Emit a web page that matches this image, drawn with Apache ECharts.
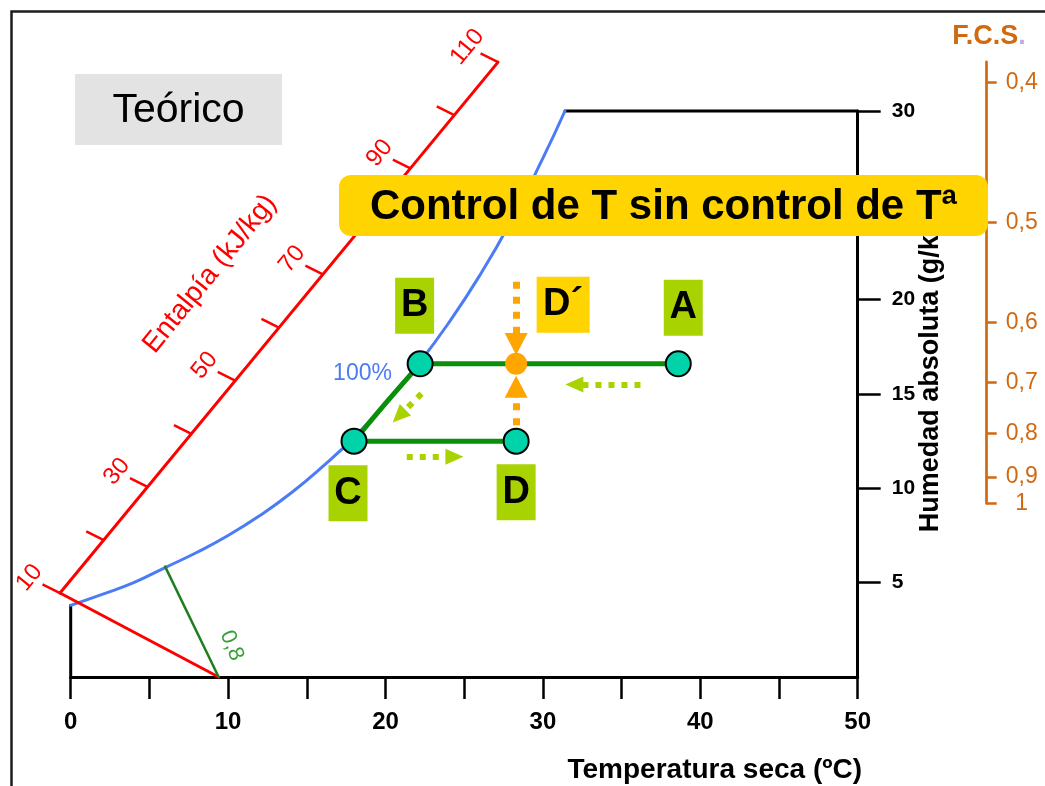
<!DOCTYPE html>
<html>
<head>
<meta charset="utf-8">
<script src="https://cdn.jsdelivr.net/npm/echarts@6/dist/echarts.min.js"></script>
<style>
  html, body { margin: 0; padding: 0; background: #fff; }
  #chart { width: 1045px; height: 786px; }
</style>
</head>
<body>
<div id="chart"></div>
<script>
// Saturation curve (100 % relative humidity): dry-bulb temperature (ºC) -> absolute humidity (g/kg)
const satT = [0, 2, 4, 6, 8, 10, 12, 14, 16, 18, 20, 22, 24, 26, 28, 30, 31.4];
const satW = [3.8, 4.38, 5.0, 5.8, 6.6, 7.5, 8.55, 9.75, 11.15, 12.7, 14.5, 16.5, 18.75, 21.3, 24.2, 27.5, 30.0];

// Air states of the process
const stateNames = ['A', 'B', 'C', 'D', 'D´'];
const stateT = [38.6, 22.2, 18.0, 28.3, 28.3];
const stateW = [16.6, 16.6, 12.5, 12.5, 16.6];

// Oblique enthalpy scale (kJ/kg): position of each graduation on the T / W plane
const enthalpyValues = [10, 20, 30, 40, 50, 60, 70, 80, 90, 100, 110];
const enthalpyT = [-0.68, 2.10, 4.88, 7.67, 10.45, 13.23, 16.02, 18.80, 21.58, 24.37, 27.15];
const enthalpyW = [4.45, 7.26, 10.08, 12.89, 15.71, 18.52, 21.34, 24.15, 26.96, 29.78, 32.59];

// Isenthalpic line h = 10 kJ/kg and the 0,8 sensible heat factor guide line
const isoEnthalpy10 = [[-0.68, 4.45], [9.4, 0]];
const shfLine08 = [[6.0, 5.85], [9.4, 0]];

// Sensible heat factor scale (F.C.S.): labels and their height on the humidity scale
const fcsLabels = ['0,4', '0,5', '0,6', '0,7', '0,8', '0,9', '1'];
const fcsAt = [31.5, 24.1, 18.8, 15.6, 12.9, 10.6, 9.2];
const fcsScaleTop = 32.6;

// Axis tick labels
const xLabels = [0, 10, 20, 30, 40, 50];
const yTicks = [5, 10, 15, 20, 25, 30];

// Flow arrows [from, to] (T, W)
const processArrows = [
  [[36.2, 15.5], [32.0, 15.5]],
  [[21.35, 11.67], [24.38, 11.67]],
  [[22.29, 15.02], [20.86, 13.83]]
];
const mixingArrows = [
  [[28.3, 20.95], [28.3, 17.65]],
  [[28.3, 13.35], [28.3, 15.39]]
];

const FONT = '"Liberation Sans", Arial, Helvetica, sans-serif';
const RED = '#ff0000', BLUE = '#4b7bf5', GREEN = '#0b8f0b', TEAL = '#00d2aa';
const LIME = '#a9d300', ORANGE = '#ffa500', FCS_COLOR = '#cf6a12', YELLOW = '#ffd400';

const GRID = { left: 70.7, right: 187.3, top: 111, bottom: 109 };
const H = 786, W_MAX = 30;
const pxPerW = (H - GRID.top - GRID.bottom) / W_MAX;
const baseY = H - GRID.bottom;
const fcsTopPx = baseY - fcsScaleTop * pxPerW;
const fcsBottomPx = baseY - fcsAt[fcsAt.length - 1] * pxPerW;

// Direction of the short isenthalpic graduation marks (px)
const TICK = [-17.5, -8.7];

const pts = (ts, ws) => ts.map((t, i) => [t, ws[i]]);
const st = i => [stateT[i], stateW[i]];

const labelLayout = {
  'A':  { offset: [5, -56],    bg: LIME,   w: 39 },
  'B':  { offset: [-5.5, -58], bg: LIME,   w: 39 },
  'C':  { offset: [-6, 52],    bg: LIME,   w: 39 },
  'D':  { offset: [0, 51],     bg: LIME,   w: 39 },
  'D´': { offset: [47, -59],   bg: YELLOW, w: 53 }
};

const curveBC = [st(1)]
  .concat(pts(satT, satW).filter(p => p[0] > stateT[2] + 0.5 && p[0] < stateT[1] - 0.5).reverse())
  .concat([st(2)]);

function plainLine(data, color, width, extra) {
  return Object.assign({
    type: 'line', data, showSymbol: false, symbol: 'none', clip: false, silent: true,
    lineStyle: { color, width, cap: 'round' }, z: 2
  }, extra || {});
}

// Straight segments that may reach outside the plotting area
function segmentSeries(segments, color, width, z) {
  return {
    type: 'custom', clip: false, silent: true, z: z || 2,
    data: segments.map(s => [s[0][0], s[0][1], s[1][0], s[1][1]]),
    encode: { x: [0, 2], y: [1, 3] },
    renderItem: (params, api) => {
      const a = api.coord([api.value(0), api.value(1)]);
      const b = api.coord([api.value(2), api.value(3)]);
      return {
        type: 'line',
        shape: { x1: a[0], y1: a[1], x2: b[0], y2: b[1] },
        style: { stroke: color, lineWidth: width, lineCap: 'round' }
      };
    }
  };
}

function arrowMarks(list, color, width, dash, head) {
  return {
    silent: true, animation: false,
    label: { show: false }, emphasis: { disabled: true },
    lineStyle: { color, width, type: dash, cap: 'butt', opacity: 1 },
    data: list.map(a => [
      { coord: a[0], symbol: 'none' },
      { coord: a[1], symbol: 'triangle', symbolSize: head }
    ])
  };
}

const chart = echarts.init(document.getElementById('chart'));

const lastE = enthalpyT.length - 1;

const option = {
  animation: false,
  backgroundColor: '#ffffff',
  textStyle: { fontFamily: FONT },
  grid: [
    { left: GRID.left, right: GRID.right, top: GRID.top, bottom: GRID.bottom },
    { left: 900, right: 58.3, top: fcsTopPx, bottom: H - fcsBottomPx }
  ],
  xAxis: [
    {
      gridIndex: 0, type: 'value', min: 0, max: 50, interval: 5,
      axisLine: { onZero: false, lineStyle: { color: '#000', width: 3 } },
      axisTick: { length: 22, lineStyle: { color: '#000', width: 2.5 } },
      axisLabel: { customValues: xLabels, color: '#000', fontSize: 24, fontWeight: 'bold', margin: 33 },
      splitLine: { show: false }
    },
    { gridIndex: 1, type: 'value', min: 0, max: 1, show: false }
  ],
  yAxis: [
    {
      gridIndex: 0, type: 'value', position: 'right', min: 0, max: W_MAX, interval: 5,
      axisLine: { show: true, onZero: false, lineStyle: { color: '#000', width: 3 } },
      axisTick: { show: true, length: 23, customValues: yTicks, lineStyle: { color: '#000', width: 2.5 } },
      axisLabel: { customValues: yTicks, color: '#000', fontSize: 21, fontWeight: 'bold', margin: 34 },
      splitLine: { show: false }
    },
    {
      gridIndex: 1, type: 'value', position: 'right',
      min: fcsAt[fcsAt.length - 1], max: fcsScaleTop,
      axisLine: { show: true, onZero: false, lineStyle: { color: FCS_COLOR, width: 2.7 } },
      axisTick: { show: true, length: 10, customValues: fcsAt, lineStyle: { color: FCS_COLOR, width: 2.5 } },
      axisLabel: {
        customValues: fcsAt, color: FCS_COLOR, fontSize: 23, margin: 35, align: 'center',
        formatter: v => fcsLabels[fcsAt.indexOf(v)]
      },
      splitLine: { show: false }
    }
  ],
  series: [
    // chart outline closing the saturation curve
    plainLine([[0, 0], [0, satW[0]]], '#000', 3),
    plainLine([[satT[satT.length - 1], satW[satW.length - 1]], [50, W_MAX]], '#000', 3),
    // saturation curve
    plainLine(pts(satT, satW), BLUE, 3, { smooth: true }),
    // enthalpy scale, the 10 kJ/kg isenthalpic line and the 0,8 guide
    segmentSeries([
      [[enthalpyT[0], enthalpyW[0]], [enthalpyT[lastE], enthalpyW[lastE]]],
      isoEnthalpy10
    ], RED, 3, 3),
    segmentSeries([shfLine08], '#1f7f1f', 2.5, 3),
    {
      type: 'custom', clip: false, silent: true, z: 3,
      data: enthalpyValues.map((h, i) => [enthalpyT[i], enthalpyW[i], h]),
      encode: { x: 0, y: 1 },
      renderItem: (params, api) => {
        const p = api.coord([api.value(0), api.value(1)]);
        const h = api.value(2);
        const children = [{
          type: 'line',
          shape: { x1: p[0], y1: p[1], x2: p[0] + TICK[0], y2: p[1] + TICK[1] },
          style: { stroke: RED, lineWidth: 2.5 }
        }];
        if (h % 20 === 10) {
          children.push({
            type: 'text',
            x: p[0] + TICK[0] * 1.75, y: p[1] + TICK[1] * 1.75,
            rotation: 50.5 * Math.PI / 180,
            style: { text: String(h), fill: RED, fontSize: 24, fontFamily: FONT, align: 'center', verticalAlign: 'middle' }
          });
        }
        return { type: 'group', children };
      }
    },
    // process A -> B (cooling), B -> C along saturation, C -> D reheating
    plainLine([st(0), st(1)], GREEN, 5, { z: 4, lineStyle: { color: GREEN, width: 5, cap: 'butt' } }),
    plainLine(curveBC, GREEN, 5, { z: 4, smooth: true }),
    plainLine([st(2), st(3)], GREEN, 5, { z: 4, lineStyle: { color: GREEN, width: 5, cap: 'butt' },
      markLine: arrowMarks(processArrows, LIME, 6, [6, 7], [16, 18]) }),
    plainLine([], ORANGE, 0, { z: 5, markLine: arrowMarks(mixingArrows, ORANGE, 7, [7, 8], [23, 22]) }),
    // air states
    {
      type: 'scatter', z: 10, silent: true, clip: false,
      data: stateNames.map((n, i) => {
        const lay = labelLayout[n];
        const isPrime = n === 'D´';
        return {
          name: n,
          value: st(i),
          symbolSize: isPrime ? 22 : 25,
          itemStyle: isPrime
            ? { color: ORANGE, borderWidth: 0, opacity: 1 }
            : { color: TEAL, borderColor: '#000', borderWidth: 2, opacity: 1 },
          label: {
            show: true, position: 'inside', offset: lay.offset, formatter: n,
            backgroundColor: lay.bg, width: lay.w, height: 56, lineHeight: 56,
            align: 'center', verticalAlign: 'middle', padding: 0, opacity: 1,
            color: '#000', fontSize: 38, fontWeight: 'bold', fontFamily: FONT
          }
        };
      })
    }
  ],
  graphic: [
    { type: 'rect', silent: true, z: -10,
      shape: { x: 11.5, y: 11.5, width: 1100, height: 900 },
      style: { fill: 'none', stroke: '#1c1c1c', lineWidth: 2.5 } },
    { type: 'rect', silent: true, shape: { x: 75, y: 74, width: 207, height: 71 }, style: { fill: '#e3e3e3' } },
    { type: 'text', silent: true, x: 178.5, y: 111,
      style: { text: 'Teórico', fill: '#000', fontSize: 41, fontFamily: FONT, align: 'center', verticalAlign: 'middle' } },
    { type: 'text', silent: true, x: 862, y: 770,
      style: { text: 'Temperatura seca (ºC)', fill: '#000', fontSize: 28, fontWeight: 'bold', fontFamily: FONT, align: 'right', verticalAlign: 'middle' } },
    { type: 'text', silent: true, x: 931, y: 371, rotation: Math.PI / 2,
      style: { text: 'Humedad absoluta (g/kg)', fill: '#000', fontSize: 27, fontWeight: 'bold', fontFamily: FONT, align: 'center', verticalAlign: 'middle' } },
    { type: 'text', silent: true, x: 210, y: 274, rotation: 51 * Math.PI / 180,
      style: { text: 'Entalpía (kJ/kg)', fill: RED, fontSize: 28, fontFamily: FONT, align: 'center', verticalAlign: 'middle' } },
    { type: 'text', silent: true, x: 362.5, y: 374,
      style: { text: '100%', fill: BLUE, fontSize: 23, fontFamily: FONT, align: 'center', verticalAlign: 'middle' } },
    { type: 'text', silent: true, x: 231.7, y: 645.7, rotation: -68 * Math.PI / 180,
      style: { text: '0,8', fill: '#33a033', fontSize: 22, fontFamily: FONT, align: 'center', verticalAlign: 'middle' } },
    { type: 'text', silent: true, x: 989, y: 37,
      style: {
        text: '{a|F.C.S}{b|.}', align: 'center', verticalAlign: 'middle',
        rich: {
          a: { fill: FCS_COLOR, fontSize: 27, fontWeight: 'bold', fontFamily: FONT },
          b: { fill: '#c7a6f2', fontSize: 27, fontWeight: 'bold', fontFamily: FONT }
        }
      } },
    { type: 'rect', silent: true, z: 100,
      shape: { x: 339, y: 175, width: 649, height: 61, r: 12 }, style: { fill: YELLOW } },
    { type: 'text', silent: true, z: 101, x: 663.5, y: 207,
      style: { text: 'Control de T sin control de Tª', fill: '#000', fontSize: 42, fontWeight: 'bold', fontFamily: FONT, align: 'center', verticalAlign: 'middle' } }
  ]
};

chart.setOption(option);
</script>
</body>
</html>
